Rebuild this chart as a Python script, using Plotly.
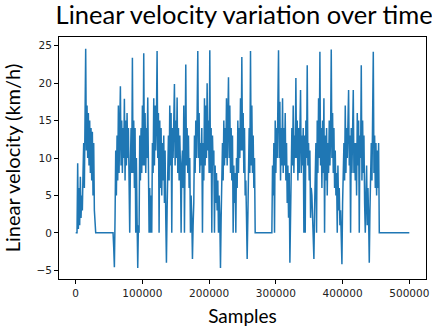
import plotly.graph_objects as go

# Velocity, one value every 1000 samples (0 .. 500000)
SAMPLE_STEP = 1000
velocity_kmh = (
    [0, 0, 0, 9.3, 0.5, 6, 1, 7.5, 2, 5,
     3, 8, 12, 6, 15, 24.6, 11, 17, 10, 16,
     9, 15, 8, 14, 7, 13.5, 5, 12, 3, 0]
    + [0] * 27
    + [-2, -4.6, 2,
       11, 5, 13, 7, 17, 8, 14, 19.6, 9, 15,
       8, 14, 10, 17.9, 7, 15, 9, 16, 10, 14,
       7, 0, 9, 14, 8, 23.4, 8, 15, 6, 14,
       0, 10, 2, -4.7, 1, 0, 13, 7, 14, 8,
       17, 9, 24.0, 9, 16, 8, 14, 10, 18.1, 3,
       0, 6, 0, 5, 0, 12, 8, 18, 9, 17,
       11, 15, 24.3, 10, 16, 0, 15, 6, 14, 5,
       12, 7, 13, 4, 11, 2, -4.0, 3, 8, 13,
       7, 17, 9, 16, 0, 14, 10, 15, 19.9, 9,
       15, 10, 18.1, 8, 14, 7, 13, 9, 0, 9,
       11, 6, 17, 0, 13, 22.5, 9, 14, 8, 13,
       6, 10, 0, 5, 2, -3.5, 1, 4, 13, 8,
       15, 10, 16, 24.3, 10, 16, 8, 12, 9, 14,
       0, 12, 7, 18, 9, 17, 10, 20, 11, 15,
       8, 24.4, 8, 14, 0, 13, 9, 11, 0, 9,
       4, 8, 3, 7, 0, 5, 2, -4.7, 2, 8,
       12, 7, 15, 9, 14, 10, 18, 9, 13, 20.8,
       10, 17, 8, 14, 7, 13, 0, 9, 4, 8,
       0, 10, 6, 15, 8, 14, 10, 18, 11, 23.5,
       11, 16, 8, 14, 5, 7, 2, -3.5, 2, 6,
       14, 8, 24.3, 9, 17, 8, 13, 6, 10, 0]
    + [0] * 25
    + [9, 5, 12, 0, 15,
       8, 14, 10, 17, 24.4, 10, 17.5, 7, 14, 9,
       18, 8, 14, 9, 16, 7, 12, 4, 9, 2,
       8, -4.0, 3, 6, 14, 9, 17, 8, 13, 10,
       20.7, 10, 15, 7, 14, 8, 12, 19.1, 8, 13,
       9, 14, 0, 13, 0, 15, 10, 22.4, 9, 12,
       7, 11, 2, 6, 5, 2, 1, -3.5, 3, 8,
       12, 0, 15, 8, 18, 10, 24.2, 9, 14, 6,
       15, 8, 18, 0, 13, 7, 14, 5, 12, 8,
       15, 9, 13, 24.5, 10, 16, 8, 14, 6, 11,
       5, 8, 0, 9, 3, 6, 1, 3, 0, -4.2,
       4, 9, 12, 7, 17, 8, 14, 10, 13, 19.1,
       9, 13, 0, 14, 8, 12, 19.1, 8, 12, 7,
       12, 5, 16, 9, 15, 0, 13, 10, 22.4, 7,
       15, 8, 13, 4, 0, 5, 9, 1, 6, 2,
       -4.0, 3, 6, 12, 7, 13, 24.2, 8, 13, 6,
       12, 5, 11, 6, 12]
    + [0] * 46
)
samples = [i * SAMPLE_STEP for i in range(len(velocity_kmh))]

x_ticks = [0, 100000, 200000, 300000, 400000, 500000]
y_ticks = [-5, 0, 5, 10, 15, 20, 25]

TICK_FONT = dict(family="DejaVu Sans", size=10.5, color="#222222")
LABEL_FONT = "Lato, Open Sans, sans-serif"

fig = go.Figure(
    go.Scatter(x=samples, y=velocity_kmh, mode="lines",
               line=dict(color="#1f77b4", width=1.5), showlegend=False)
)

axis_style = dict(showline=True, mirror=True, linecolor="#000000", linewidth=1,
                  ticks="outside", ticklen=4, tickcolor="#000000", tickwidth=1,
                  showgrid=False, zeroline=False, tickfont=TICK_FONT)

fig.update_layout(
    width=432, height=330,
    margin=dict(l=59, r=3, t=37, b=51),
    paper_bgcolor="white", plot_bgcolor="white",
    title=dict(text="Linear velocity variation over time",
               font=dict(family=LABEL_FONT, size=25.5, color="#000000"),
               x=0.565, xanchor="center", xref="container",
               y=0.955, yanchor="middle", yref="container"),
    xaxis=dict(range=[-25000, 525000], tickvals=x_ticks,
               ticktext=[str(v) for v in x_ticks], ticklabeloverflow="allow",
               title=dict(text="Samples", standoff=12,
                          font=dict(family=LABEL_FONT, size=19, color="#000000")),
               **axis_style),
    yaxis=dict(range=[-6.17, 26.17], tickvals=y_ticks,
               title=dict(text="Linear velocity (km/h)", standoff=11,
                          font=dict(family=LABEL_FONT, size=20, color="#000000")),
               **axis_style),
)

# page body margin would shift the fixed-size figure inside the 432x330 window
fig.write_html("out.html", config={"displayModeBar": False},
               post_script="document.body.style.margin='0';")
